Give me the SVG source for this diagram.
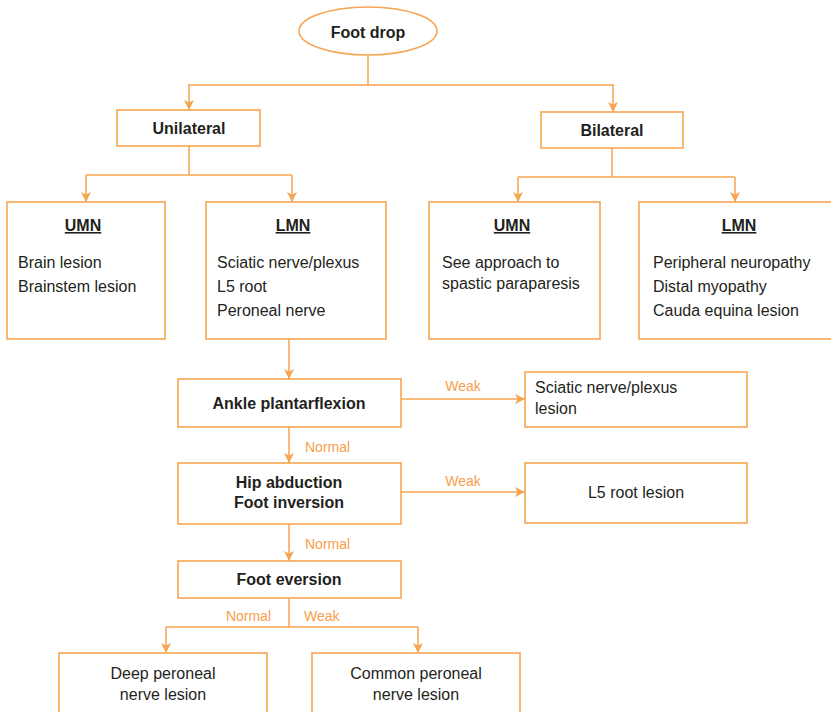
<svg xmlns="http://www.w3.org/2000/svg" width="831" height="712" viewBox="0 0 831 712">
<style>
.box{fill:#fff;stroke:#F7A550;stroke-width:1.6}
.ln{fill:none;stroke:#F7A550;stroke-width:1.5}
.b{font-family:"Liberation Sans",Arial,sans-serif;font-weight:bold;font-size:16px;fill:#231F20}
.t{font-family:"Liberation Sans",Arial,sans-serif;font-size:16px;fill:#231F20}
.l{font-family:"Liberation Sans",Arial,sans-serif;font-size:14px;fill:#F7A04A}
.c{text-anchor:middle}
.u{text-decoration:underline}
</style>
<defs>
<marker id="ah" viewBox="0 0 10 10" refX="10" refY="5" markerWidth="10" markerHeight="10" markerUnits="userSpaceOnUse" orient="auto">
<path d="M0,0 L10,5 L0,10 L2.5,5 Z" fill="#F7A550"/>
</marker>
</defs>
<g id="connectors">
<path class="ln" d="M368,55 V85 M188,85 H614"/>
<path class="ln" d="M189,85 V110" marker-end="url(#ah)"/>
<path class="ln" d="M613,85 V112" marker-end="url(#ah)"/>
<path class="ln" d="M189,146 V175 M86,175 H292"/>
<path class="ln" d="M86,175 V202" marker-end="url(#ah)"/>
<path class="ln" d="M292,175 V202" marker-end="url(#ah)"/>
<path class="ln" d="M612,148 V177 M518,177 H735"/>
<path class="ln" d="M518,177 V202" marker-end="url(#ah)"/>
<path class="ln" d="M735,177 V202" marker-end="url(#ah)"/>
<path class="ln" d="M289,339 V379" marker-end="url(#ah)"/>
<path class="ln" d="M401,399 H525" marker-end="url(#ah)"/>
<path class="ln" d="M289,427 V463" marker-end="url(#ah)"/>
<path class="ln" d="M401,492 H525" marker-end="url(#ah)"/>
<path class="ln" d="M289,524 V561" marker-end="url(#ah)"/>
<path class="ln" d="M289,598 V627 M166,627 H418"/>
<path class="ln" d="M166,627 V653" marker-end="url(#ah)"/>
<path class="ln" d="M418,627 V653" marker-end="url(#ah)"/>
<text class="l c" x="463" y="391">Weak</text>
<text class="l" x="305" y="452">Normal</text>
<text class="l c" x="463" y="486">Weak</text>
<text class="l" x="305" y="549">Normal</text>
<text class="l" x="271" y="621" text-anchor="end">Normal</text>
<text class="l" x="304" y="621">Weak</text>
</g>
<g id="footdrop">
<ellipse class="box" cx="368" cy="31" rx="69" ry="24"/>
<text class="b c" x="368" y="38">Foot drop</text>
</g>
<g id="unilateral">
<rect class="box" x="117" y="110" width="143" height="36"/>
<text class="b c" x="189" y="134">Unilateral</text>
</g>
<g id="bilateral">
<rect class="box" x="541" y="112" width="142" height="36"/>
<text class="b c" x="612" y="136">Bilateral</text>
</g>
<g id="uni-umn">
<rect class="box" x="7" y="202" width="158" height="137"/>
<text class="b c u" x="83" y="231">UMN</text>
<text class="t" x="18" y="268">Brain lesion</text>
<text class="t" x="18" y="292">Brainstem lesion</text>
</g>
<g id="uni-lmn">
<rect class="box" x="206" y="202" width="180" height="137"/>
<text class="b c u" x="293" y="231">LMN</text>
<text class="t" x="217" y="268">Sciatic nerve/plexus</text>
<text class="t" x="217" y="292">L5 root</text>
<text class="t" x="217" y="316">Peroneal nerve</text>
</g>
<g id="bi-umn">
<rect class="box" x="429" y="202" width="171" height="137"/>
<text class="b c u" x="512" y="231">UMN</text>
<text class="t" x="442" y="268">See approach to</text>
<text class="t" x="442" y="289">spastic paraparesis</text>
</g>
<g id="bi-lmn">
<rect class="box" x="639" y="202" width="200" height="137"/>
<text class="b c u" x="739" y="231">LMN</text>
<text class="t" x="653" y="268">Peripheral neuropathy</text>
<text class="t" x="653" y="292">Distal myopathy</text>
<text class="t" x="653" y="316">Cauda equina lesion</text>
</g>
<g id="ankle">
<rect class="box" x="178" y="379" width="223" height="48"/>
<text class="b c" x="289" y="409">Ankle plantarflexion</text>
</g>
<g id="sciatic">
<rect class="box" x="525" y="372" width="222" height="55"/>
<text class="t" x="535" y="393">Sciatic nerve/plexus</text>
<text class="t" x="535" y="414">lesion</text>
</g>
<g id="hip">
<rect class="box" x="178" y="463" width="223" height="61"/>
<text class="b c" x="289" y="488">Hip abduction</text>
<text class="b c" x="289" y="508">Foot inversion</text>
</g>
<g id="l5">
<rect class="box" x="525" y="463" width="222" height="60"/>
<text class="t c" x="636" y="498">L5 root lesion</text>
</g>
<g id="eversion">
<rect class="box" x="178" y="561" width="223" height="37"/>
<text class="b c" x="289" y="585">Foot eversion</text>
</g>
<g id="deep">
<rect class="box" x="59" y="653" width="208" height="70"/>
<text class="t c" x="163" y="679">Deep peroneal</text>
<text class="t c" x="163" y="700">nerve lesion</text>
</g>
<g id="common">
<rect class="box" x="312" y="653" width="208" height="70"/>
<text class="t c" x="416" y="679">Common peroneal</text>
<text class="t c" x="416" y="700">nerve lesion</text>
</g>
</svg>
